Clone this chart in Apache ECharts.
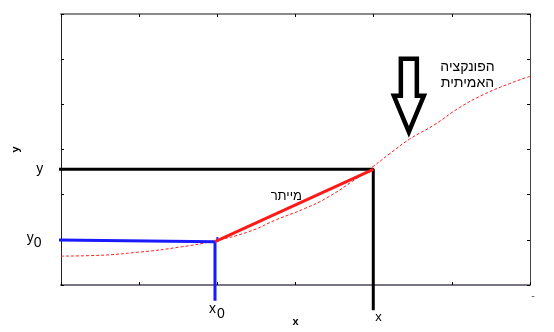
<!DOCTYPE html>
<html><head><meta charset="utf-8">
<script src="https://cdn.jsdelivr.net/npm/echarts@6/dist/echarts.min.js"></script>
<style>html,body{margin:0;padding:0;background:#fff}#c{width:554px;height:332px}</style>
</head><body><div id="c"></div>
<script>
// true function (dotted red curve)
const curveX = [0, 0.37, 1.01, 1.52, 1.94, 2.4, 2.76, 3.1, 3.40, 3.79, 3.99, 4.2, 4.46, 4.77, 5.10, 5.41, 5.74, 6.0];
const curveY = [0.64, 0.65, 0.73, 0.84, 0.97, 1.18, 1.45, 1.68, 1.93, 2.37, 2.62, 2.9, 3.23, 3.54, 3.93, 4.22, 4.46, 4.62];
// construction points
const x0 = 1.97, y0 = 0.96;
const x1 = 3.995, y1 = 2.56;
const blueLeft = -0.13, blueLeftY = 1.0, blueBottom = -0.35;
const blackLeft = -0.15, blackBottom = -0.56;
const xTicks = [0, 1, 2, 3, 4, 5, 6];
const yTicks = [0, 1, 2, 3, 4, 5, 6];
const labels = {
  y: 'y', y0: 'y', y0sub: '0', x0: 'x', x0sub: '0', x: 'x',
  secant: 'מייתר', true1: 'הפונקציה', true2: 'האמיתית', dash: '-'
};

const chart = echarts.init(document.getElementById('c'));
const axisCommon = {
  type: 'value', min: 0, max: 6, interval: 1,
  splitLine: {show: false},
  axisLabel: {show: false},
  axisTick: {show: true, inside: true, length: 3, lineStyle: {color: '#000', width: 1}}
};
const font = 'Liberation Sans, Arial, sans-serif';
chart.setOption({
  animation: false,
  grid: {left: 61, right: 24, top: 14, bottom: 45},
  xAxis: [
    Object.assign({}, axisCommon, {position: 'bottom',
      axisLine: {show: true, onZero: false, lineStyle: {color: '#7a7580', width: 2}},
      name: 'x', nameLocation: 'middle', nameGap: 31,
      nameTextStyle: {fontWeight: 'bold', fontSize: 11, color: '#000', fontFamily: font}}),
    Object.assign({}, axisCommon, {position: 'top',
      axisLine: {show: true, onZero: false, lineStyle: {color: '#8a8a8a', width: 2}}})
  ],
  yAxis: [
    Object.assign({}, axisCommon, {position: 'left',
      axisLine: {show: true, onZero: false, lineStyle: {color: '#222', width: 1}},
      name: 'y', nameLocation: 'middle', nameGap: 40, nameRotate: 90,
      nameTextStyle: {fontWeight: 'bold', fontSize: 11, color: '#000', fontFamily: font}}),
    Object.assign({}, axisCommon, {position: 'right',
      axisLine: {show: true, onZero: false, lineStyle: {color: '#444', width: 1}}})
  ],
  series: [
    {type: 'line', data: curveX.map((v, i) => [v, curveY[i]]), smooth: true, symbol: 'none',
     lineStyle: {color: '#ff2020', width: 1, type: [3, 2]}, clip: false, z: 2},
    {type: 'line', data: [[blueLeft, blueLeftY], [x0, y0], [x0, blueBottom]], symbol: 'none',
     lineStyle: {color: '#1a1aff', width: 3}, clip: false, z: 3},
    {type: 'line', data: [[x0 + 0.03, y0], [x0 + 0.03, y0 + 0.1]], symbol: 'none',
     lineStyle: {color: '#1a1aff', width: 2}, clip: false, z: 3},
    {type: 'line', data: [[blackLeft, y1], [x1, y1], [x1, blackBottom]], symbol: 'none',
     lineStyle: {color: '#000', width: 3}, clip: false, z: 3},
    {type: 'line', data: [[x0, y0], [x1, y1]], symbol: 'none',
     lineStyle: {color: '#ff1a1a', width: 3}, clip: false, z: 4}
  ]
});

function px(x, y) { return chart.convertToPixel({gridIndex: 0}, [x, y]); }
const pY = px(blackLeft, y1), pY0 = px(blueLeft, blueLeftY), pX0 = px(x0, blueBottom), pX = px(x1, blackBottom);
const pSec = px((x0 + x1) / 2 - 0.1, (y0 + y1) / 2 + 0.2);
const pTrue = px(5.2, 4.85);
const pArrow = px(4.45, 3.37);
const txt = (x, y, text, extra) => Object.assign({type: 'text', x: x, y: y,
  style: Object.assign({text: text, fill: '#000', font: '13px ' + font}, extra || {})});
const graphics = [
  txt(pY[0] - 6, pY[1], labels.y, {align: 'right', verticalAlign: 'middle', font: '14px ' + font}),
  txt(pY0[0] - 17, pY0[1] - 2, labels.y0, {align: 'right', verticalAlign: 'middle', font: '14px ' + font}),
  txt(pY0[0] - 17, pY0[1] + 3, labels.y0sub, {align: 'left', verticalAlign: 'middle', font: '14px ' + font}),
  txt(pX0[0] - 6, pX0[1] + 1, labels.x0, {align: 'left', verticalAlign: 'top', font: '14px ' + font}),
  txt(pX0[0] + 2, pX0[1] + 6, labels.x0sub, {align: 'left', verticalAlign: 'top', font: '14px ' + font}),
  txt(pX[0] + 2, pX[1] + 1, labels.x, {align: 'left', verticalAlign: 'top', font: '13px ' + font}),
  txt(pSec[0], pSec[1], labels.secant, {align: 'center', verticalAlign: 'middle'}),
  txt(pTrue[0], pTrue[1] + 1, labels.true1, {align: 'center', verticalAlign: 'middle', font: '14px ' + font}),
  txt(pTrue[0], pTrue[1] + 17, labels.true2, {align: 'center', verticalAlign: 'middle', font: '14px ' + font}),
  txt(px(6, 0)[0] + 3, px(6, 0)[1] + 11, labels.dash, {align: 'center', verticalAlign: 'middle', font: '11px ' + font, fill: '#555'}),
  {type: 'polygon', x: pArrow[0], y: pArrow[1], z: 10,
   shape: {points: [[-8, -74], [8, -74], [8, -37], [15, -37], [0, -1], [-15, -37], [-8, -37]]},
   style: {fill: '#fff', stroke: '#000', lineWidth: 4.5, lineJoin: 'miter'}}
];
chart.setOption({graphic: graphics});
</script></body></html>
